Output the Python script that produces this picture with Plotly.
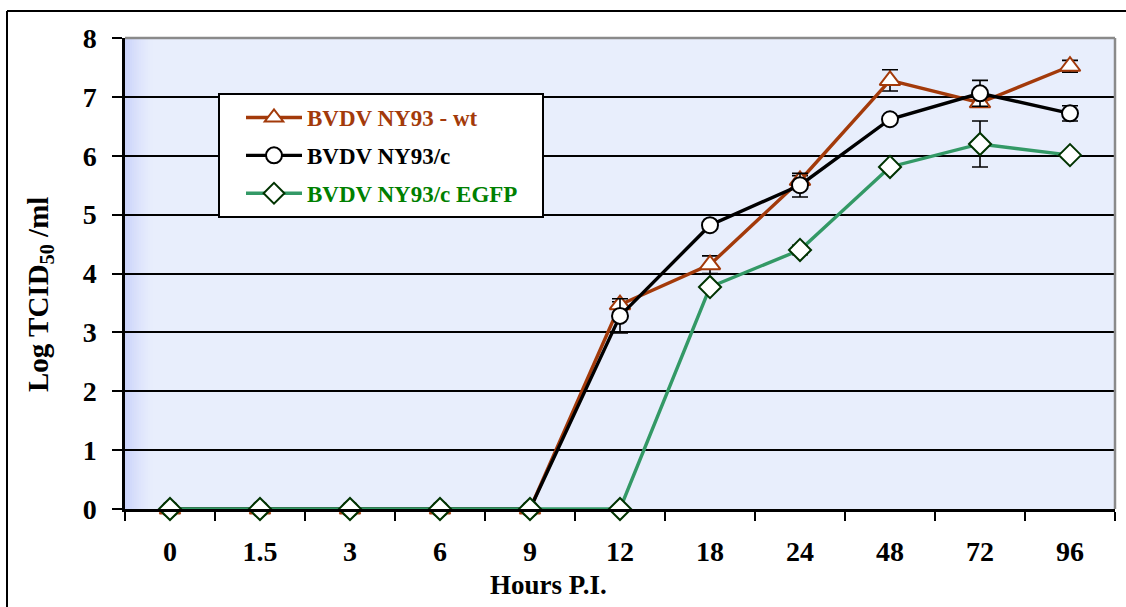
import plotly.graph_objects as go

# Sampling times (hours post infection), plotted as evenly spaced categories
hours = ["0", "1.5", "3", "6", "9", "12", "18", "24", "48", "72", "96"]

# Virus titres (log TCID50/ml) and their error bars
wt_titre = [0, 0, 0, 0, 0, 3.47, 4.15, 5.58, 7.28, 6.9, 7.52]
wt_err = [0, 0, 0, 0, 0, 0.05, 0.15, 0.08, 0.18, 0, 0.1]

c_titre = [0, 0, 0, 0, 0, 3.28, 4.82, 5.5, 6.62, 7.06, 6.72]
c_err = [0, 0, 0, 0, 0, 0.29, 0, 0.2, 0, 0.22, 0.13]

egfp_titre = [0, 0, 0, 0, 0, 0, 3.77, 4.4, 5.81, 6.2, 6.01]
egfp_err = [0, 0, 0, 0, 0, 0, 0, 0.08, 0, 0.39, 0]

series_names = ["BVDV NY93 - wt", "BVDV NY93/c", "BVDV NY93/c EGFP"]
y_ticks = [0, 1, 2, 3, 4, 5, 6, 7, 8]

FONT = "Liberation Serif, Times New Roman, serif"
BROWN = "#A33A0A"
GREEN_LINE = "#339966"
GREEN_EDGE = "#003300"
GREEN_TEXT = "#008000"

W, H = 1126, 607
ML, MR, MT, MB = 125, 11, 38, 98
PW, PH = W - ML - MR, H - MT - MB


def px_x(px):
    return (px - ML) / PW


def px_y(py):
    return (H - MB - py) / PH


fig = go.Figure()


def add_series(y, err, name, text_color, line_color, symbol, edge, size, group):
    fig.add_trace(go.Scatter(
        x=hours, y=y, mode="lines+markers",
        name=f"<span style='color:{text_color}'>{name}</span>",
        legendgroup=group,
        line=dict(color=line_color, width=3.4),
        marker=dict(symbol=symbol, size=size, color="white",
                    line=dict(color=edge, width=2)),
        error_y=dict(type="data", array=err, visible=True,
                     color="black", thickness=1.6, width=8),
        cliponaxis=False,
    ))


add_series(wt_titre, wt_err, series_names[0], BROWN, BROWN,
           "triangle-up", BROWN, 18, "a")
add_series(c_titre, c_err, series_names[1], "black", "black",
           "circle", "black", 16, "b")
add_series(egfp_titre, egfp_err, series_names[2], GREEN_TEXT, GREEN_LINE,
           "diamond", GREEN_EDGE, 17, "c")

shapes = []
# soft blue shading along the left edge of the plotting area
strip_cols = ["#CCD4FB", "#CFD7FB", "#D2DAFB", "#D5DDFB", "#D8DFFB", "#DBE2FB",
              "#DEE4FC", "#E0E6FC", "#E2E8FC", "#E4EAFC", "#E6ECFC", "#E7EDFC"]
sw = 2.3
for i, col in enumerate(strip_cols):
    shapes.append(dict(type="rect", xref="paper", yref="paper",
                       x0=i * sw / PW, x1=(i + 1) * sw / PW + 0.0005, y0=0, y1=1,
                       fillcolor=col, line=dict(width=0), layer="below"))
# grey frame on top and right of the plotting area
shapes.append(dict(type="line", xref="paper", yref="paper", x0=0, x1=1, y0=1, y1=1,
                   line=dict(color="#8A8A8A", width=2.5)))
shapes.append(dict(type="line", xref="paper", yref="paper", x0=1, x1=1, y0=0, y1=1,
                   line=dict(color="#8A8A8A", width=2.5)))
# outer chart border (top and left)
shapes.append(dict(type="line", xref="paper", yref="paper",
                   x0=px_x(7), x1=px_x(W + 5), y0=px_y(11), y1=px_y(11),
                   line=dict(color="black", width=2)))
shapes.append(dict(type="line", xref="paper", yref="paper",
                   x0=px_x(7), x1=px_x(7), y0=px_y(11), y1=px_y(H + 5),
                   line=dict(color="black", width=2)))
# legend box
shapes.append(dict(type="rect", xref="paper", yref="paper",
                   x0=px_x(219), x1=px_x(543), y0=px_y(94), y1=px_y(217),
                   fillcolor="white", line=dict(color="black", width=2),
                   layer="above"))

annotations = [
    dict(text="<b>Log TCID<sub>50</sub> /ml</b>", xref="paper", yref="paper",
         x=px_x(40), y=px_y(295), textangle=-90, showarrow=False,
         font=dict(family=FONT, size=29, color="black"),
         xanchor="center", yanchor="middle"),
    dict(text="<b>Hours P.I.</b>", xref="paper", yref="paper",
         x=px_x(548), y=px_y(585), showarrow=False,
         font=dict(family=FONT, size=27, color="black"),
         xanchor="center", yanchor="middle"),
]

fig.update_layout(
    width=W, height=H,
    margin=dict(l=ML, r=MR, t=MT, b=MB, autoexpand=False),
    paper_bgcolor="white",
    plot_bgcolor="#E8EEFC",
    showlegend=True,
    legend=dict(
        x=px_x(241), y=px_y(96), xanchor="left", yanchor="top",
        bgcolor="rgba(0,0,0,0)", borderwidth=0,
        font=dict(family=FONT, size=23, color="black", weight="bold"),
        traceorder="grouped", tracegroupgap=5,
        itemwidth=56,
    ),
    xaxis=dict(
        type="category", categoryorder="array", categoryarray=hours,
        range=[-0.5, len(hours) - 0.5],
        showgrid=False, zeroline=False,
        showline=True, linecolor="black", linewidth=2.5,
        ticks="outside", tickson="boundaries", ticklen=9, tickwidth=2,
        tickcolor="black",
        tickfont=dict(family=FONT, size=28, color="black", weight="bold"),
        ticklabelstandoff=16,
    ),
    yaxis=dict(
        range=[0, 8], tickvals=y_ticks,
        showgrid=True, gridcolor="black", gridwidth=1.6,
        zeroline=False,
        showline=True, linecolor="black", linewidth=2.5,
        ticks="outside", ticklen=10, tickwidth=2, tickcolor="black",
        tickfont=dict(family=FONT, size=28, color="black", weight="bold"),
        ticklabelstandoff=10,
    ),
    shapes=shapes,
    annotations=annotations,
)

fig.write_html("out.html")
